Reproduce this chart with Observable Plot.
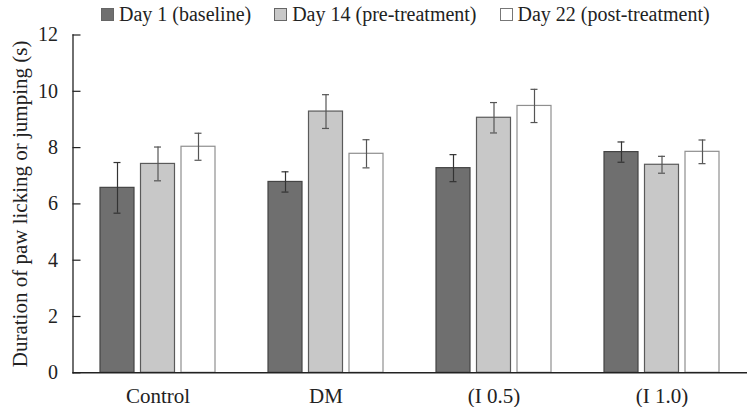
<!DOCTYPE html>
<html><head><meta charset="utf-8">
<script src="https://cdn.jsdelivr.net/npm/d3@7"></script>
<script src="https://cdn.jsdelivr.net/npm/@observablehq/plot@0.6"></script>
<style>
html,body{margin:0;padding:0;background:#fff;}
body{width:747px;height:407px;overflow:hidden;font-family:"Liberation Serif","DejaVu Serif",serif;color:#222;}
#legend{height:28px;display:flex;align-items:center;padding-left:101px;font-size:20px;line-height:28px;box-sizing:border-box;}
.item{display:flex;align-items:center;margin-right:23px;white-space:nowrap;}
.sw{width:11px;height:11px;border:1px solid #555;margin-right:5px;}
</style></head><body>
<div id="legend"></div>
<div id="chart"></div>
<script>
const groups = ["Control", "DM", "(I 0.5)", "(I 1.0)"];
const seriesNames = ["Day 1 (baseline)", "Day 14 (pre-treatment)", "Day 22 (post-treatment)"];
const day1 = [6.57, 6.78, 7.27, 7.84];
const day1Err = [0.90, 0.36, 0.48, 0.36];
const day14 = [7.42, 9.28, 9.06, 7.39];
const day14Err = [0.60, 0.60, 0.54, 0.30];
const day22 = [8.03, 7.78, 9.48, 7.85];
const day22Err = [0.48, 0.50, 0.59, 0.42];
const yTicks = [0, 2, 4, 6, 8, 10, 12];
const yLabel = "Duration of paw licking or jumping (s)";

const fills = ["#6f6f6f", "#c8c8c8", "#ffffff"];
const strokes = ["#444444", "#5a5a5a", "#8f8f8f"];
const errColors = ["#333333", "#555555", "#555555"];

const values = [day1, day14, day22];
const errs = [day1Err, day14Err, day22Err];
const rows = [];
values.forEach((vals, s) => vals.forEach((v, g) => rows.push({group: groups[g], series: s, value: v, err: errs[s][g]})));

// legend
const legend = document.getElementById("legend");
seriesNames.forEach((name, i) => {
  const it = document.createElement("div"); it.className = "item";
  const sw = document.createElement("div"); sw.className = "sw";
  sw.style.background = fills[i]; sw.style.borderColor = i === 2 ? "#777" : "#666";
  const tx = document.createElement("span"); tx.textContent = name;
  it.appendChild(sw); it.appendChild(tx); legend.appendChild(it);
});

const W = 747, H = 379, ML = 72.5, MR = 0, MT = 6.5, MB = 34.7;
const PAD = 0.318;
const bw = (W - ML - MR) / groups.length * (1 - PAD);
const barW = 34;
const gap = (bw - 3 * barW) / 2;
const capHalf = 3.5;

const marks = [];
for (let s = 0; s < 3; s++) {
  const data = rows.filter(d => d.series === s);
  const left = s * (barW + gap);
  const center = left + barW / 2;
  marks.push(Plot.barY(data, {x: "group", y: "value", fill: fills[s], stroke: strokes[s], strokeWidth: 1.2,
    insetLeft: left, insetRight: bw - barW - left}));
  marks.push(Plot.ruleX(data, {x: "group", y1: d => d.value - d.err, y2: d => d.value + d.err,
    dx: center - bw / 2, stroke: errColors[s], strokeWidth: 1.2}));
  for (const f of [d => d.value - d.err, d => d.value + d.err]) {
    marks.push(Plot.tickY(data, {x: "group", y: f, stroke: errColors[s], strokeWidth: 1.2,
      insetLeft: center - capHalf, insetRight: bw - center - capHalf}));
  }
}
marks.push(Plot.ruleY([0], {stroke: "#222", strokeWidth: 1.6}));
marks.push(Plot.frame({anchor: "left", stroke: "#222", strokeWidth: 1.3}));
marks.push(Plot.axisY(yTicks, {tickSize: 0, tickPadding: 15, fontSize: 20, fill: "#222", label: null}));
marks.push(Plot.axisY(yTicks, {tickSize: -8, text: null, stroke: "#222", strokeWidth: 1.2, fontSize: 21,
  label: yLabel, labelAnchor: "center", labelArrow: "none", labelOffset: 61}));
marks.push(Plot.axisX({tickSize: 0, tickPadding: 15, fontSize: 21, fill: "#222", label: null}));

const chart = Plot.plot({
  width: W, height: H,
  marginLeft: ML, marginRight: MR, marginTop: MT, marginBottom: MB,
  style: {fontFamily: "'Liberation Serif', 'DejaVu Serif', serif", fontSize: "20px", color: "#222", background: "#fff", overflow: "visible"},
  x: {domain: groups, paddingInner: PAD, paddingOuter: PAD / 2, align: 0.5},
  y: {domain: [0, 12]},
  marks
});
document.getElementById("chart").appendChild(chart);
</script>
</body></html>
